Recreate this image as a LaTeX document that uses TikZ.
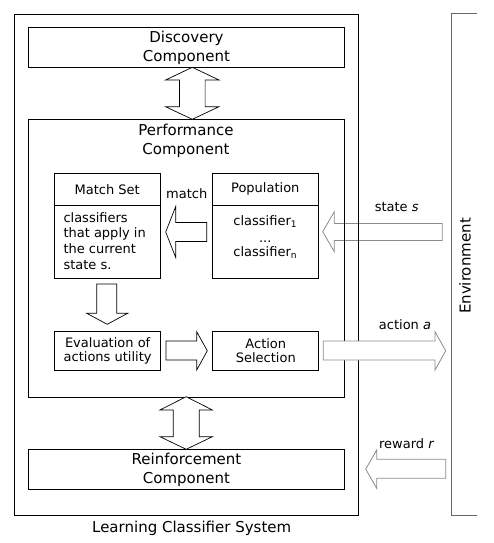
\documentclass[tikz,border=0pt]{standalone}
\usepackage{fontspec}
\setmainfont{DejaVu Sans}
\begin{document}
\begin{tikzpicture}[x=1pt,y=-1pt,
 box/.style={draw, line width=1pt, inner sep=0pt, anchor=north west},
 big/.style={font=\fontsize{15}{19}\selectfont, align=center, inner sep=0pt},
 small/.style={font=\fontsize{13}{15.7}\selectfont, inner sep=0pt},
 tight/.style={font=\fontsize{13}{14}\selectfont, inner sep=0pt, align=center},
 barrow/.style={draw=black, fill=white, line width=0.7pt, miter limit=20},
 garrow/.style={draw=black!45, fill=white, line width=0.8pt, miter limit=20},
]
\useasboundingbox[fill=white] (0,0) rectangle (493,543);
% state s arrow (behind the boxes)
\draw[garrow] (442.3,223.5) -- (334.3,223.5) -- (334.3,211.7) -- (322.7,231.7) -- (334.3,251.7) -- (334.3,240.5) -- (442.3,240.5) -- cycle;
% outer LCS box
\node[box, minimum width=343.4pt, minimum height=501pt] (lcs) at (14.3,14) {};
% environment bracket
\draw[black!60, line width=1pt] (477,14) -- (451,14) -- (451,515) -- (477,515);
\node[big, rotate=90] (env) at (465,266) {Environment};
% discovery
\node[box, minimum width=316.6pt, minimum height=40pt] (disc) at (27.7,27.3) {};
\node[big] (disctxt) at (disc.center) {Discovery\\Component};
% performance
\node[box, minimum width=316.6pt, minimum height=277.4pt] (perf) at (27.7,119.3) {};
\node[big] (perftxt) at (186,140.8) {Performance\\Component};
% match set
\node[box, minimum width=105.7pt, minimum height=105pt] (ms) at (54.3,172.7) {};
\draw[line width=1pt] (54.3,205.7) -- (160,205.7);
\node[small] (mstitle) at (107.2,189.2) {Match Set};
\node[small, align=left, anchor=west] (msbody) at (63.3,240.8) {classifiers\\that apply in\\the current\\state s.};
% population
\node[box, minimum width=106pt, minimum height=105pt] (pop) at (212.3,172.7) {};
\draw[line width=1pt] (212.3,205.7) -- (318.3,205.7);
\node[small] (poptitle) at (265.3,189.2) {Population};
\node[small, align=center] (popbody) at (265.3,237) {classifier\textsubscript{1}\\[1pt]...\\[-1pt]classifier\textsubscript{n}};
% evaluation and action selection
\node[box, minimum width=105.7pt, minimum height=39pt] (eval) at (54.3,331) {};
\node[tight] (evaltxt) at (eval.center) {Evaluation of\\actions utility};
\node[box, minimum width=106pt, minimum height=39pt] (act) at (212.3,331) {};
\node[tight] (acttxt) at (act.center) {Action\\Selection};
% reinforcement
\node[box, minimum width=316.6pt, minimum height=39.7pt] (reinf) at (27.7,449.3) {};
\node[big] (reinftxt) at (reinf.center) {Reinforcement\\Component};
% block arrows
\draw[barrow] (192.3,67.3) -- (219,80) -- (205.1,80) -- (205.1,106.7) -- (219,106.7) -- (192.3,119.3) -- (165.6,106.7) -- (179.5,106.7) -- (179.5,80) -- (165.6,80) -- cycle;
\draw[barrow] (186.2,396.7) -- (212.4,410) -- (199.2,410) -- (199.2,436.7) -- (212.4,436.7) -- (186.2,449.3) -- (160,436.7) -- (173.2,436.7) -- (173.2,410) -- (160,410) -- cycle;
\draw[barrow] (165.7,232) -- (175.7,206.5) -- (175.7,222.5) -- (206.7,222.5) -- (206.7,241.5) -- (175.7,241.5) -- (175.7,257.5) -- cycle;
\draw[barrow] (96.7,284) -- (116.7,284) -- (116.7,313.3) -- (127.7,313.3) -- (107.2,324.3) -- (86.7,313.3) -- (96.7,313.3) -- cycle;
\draw[barrow] (166,341) -- (196.7,341) -- (196.7,331.7) -- (207.3,350.8) -- (196.7,370) -- (196.7,360) -- (166,360) -- cycle;
\draw[garrow] (323.3,341) -- (435,341) -- (435,331.7) -- (445.7,350.8) -- (435,370) -- (435,360) -- (323.3,360) -- cycle;
\draw[garrow] (445.7,459.3) -- (376.7,459.3) -- (376.7,450) -- (365.7,469.1) -- (376.7,488.3) -- (376.7,478.3) -- (445.7,478.3) -- cycle;
% labels
\node[small] (matchlbl) at (186.7,193.3) {match};
\node[small] (statelbl) at (396.7,206.7) {state \textit{s}};
\node[small] (actlbl) at (405,325) {action \textit{a}};
\node[small] (rewlbl) at (406.7,443.3) {reward \textit{r}};
\node[big] (lcslbl) at (191.7,528.3) {Learning Classifier System};
\end{tikzpicture}
\end{document}
